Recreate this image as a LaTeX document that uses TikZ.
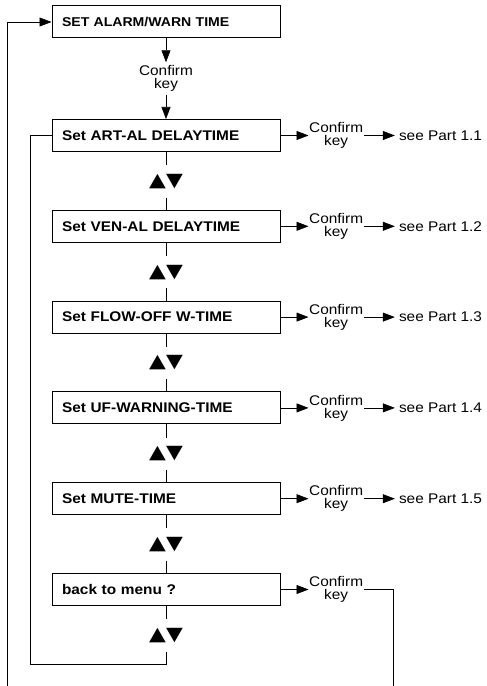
\documentclass[tikz,border=0pt]{standalone}
\usepackage{fontspec}
\setmainfont{Liberation Sans}[FakeStretch=1.1]
\newfontfamily\symfont{DejaVu Sans}[FakeStretch=1.15]
\usetikzlibrary{arrows.meta}

\tikzset{
  menubox/.style={draw, line width=1pt, text width=208pt, inner xsep=10pt, inner ysep=0pt,
    minimum height=32pt, align=left, font=\bfseries\fontsize{14}{16}\selectfont},
  keylabel/.style={align=center, inner xsep=0.5pt, inner ysep=3pt, font=\fontsize{14}{13}\selectfont},
  seelabel/.style={anchor=west, inner xsep=4pt, font=\fontsize{14}{16}\selectfont},
  updown/.style={inner sep=0pt, minimum height=32pt, font=\symfont\fontsize{19}{19}\selectfont},
  flow/.style={line width=0.6pt},
  flowarrow/.style={flow, -{Triangle[length=12pt,width=9pt]}},
}

\begin{document}
\begin{tikzpicture}[x=1pt, y=1pt]
    \useasboundingbox (0,0) rectangle (487,686);

    % Entry box and confirm key
    \node[menubox, font=\bfseries\fontsize{12.8}{15}\selectfont] (settop) at (166,664) {SET ALARM/WARN TIME};
    \node[keylabel] (key0) at (166,607.5) {Confirm\\key};
    \draw[flowarrow] (settop) -- (key0);

    % Menu rows
    \foreach \i/\txt in {1/Set ART-AL DELAYTIME, 2/Set VEN-AL DELAYTIME, 3/Set FLOW-OFF W-TIME,
                         4/Set UF-WARNING-TIME, 5/Set MUTE-TIME, 6/back to menu ?} {
        \node[menubox] (set\i) at (166, {550.5-90.8*(\i-1)}) {\txt};
        \node[keylabel, anchor=west] (key\i) at ([xshift=28pt]set\i.east) {Confirm\\key};
        \node[updown] (ud\i) at ([yshift=-29.4pt]set\i.south) {▲▼};
        \draw[flowarrow] (set\i) -- (key\i);
        \draw[flow] (set\i) -- (ud\i);
    }
    \draw[flowarrow] (key0) -- (set1);

    % Links to the sub parts
    \foreach \i in {1,...,5} {
        \pgfmathtruncatemacro{\j}{\i+1}
        \node[seelabel] (see\i) at ([xshift=31pt]key\i.east) {see Part 1.\i};
        \draw[flowarrow] (key\i) -- (see\i);
        \draw[flow] (ud\i) -- (set\j);
    }

    % Loop lines
    \coordinate (innerend) at (30,22);
    \coordinate (outerend) at (7,0);
    \coordinate (rightend) at (393,0);
    \draw[flow] (ud6.south) |- (innerend) |- (set1.west);
    \draw[flowarrow] (outerend) |- (settop.west);
    \draw[flow] (key6.east) -| (rightend);

\end{tikzpicture}
\end{document}
